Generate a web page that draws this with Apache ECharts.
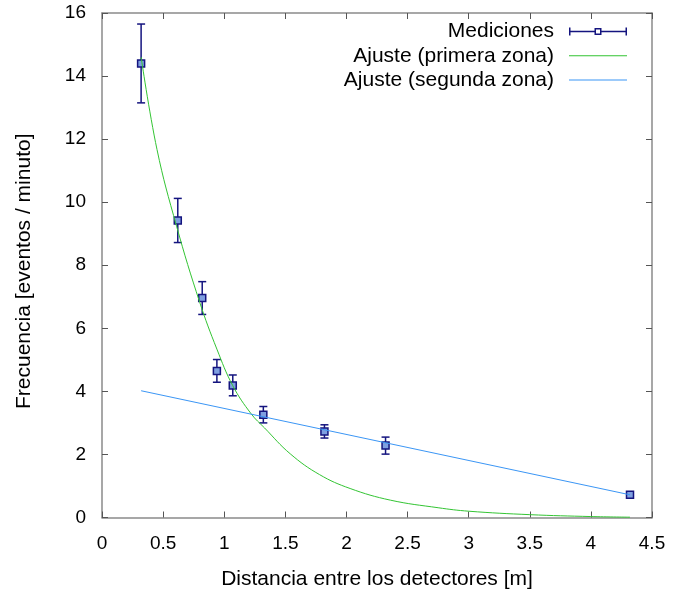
<!DOCTYPE html>
<html>
<head>
<meta charset="utf-8">
<script src="https://cdn.jsdelivr.net/npm/echarts@6/dist/echarts.min.js"></script>
<style>
  html, body { margin: 0; padding: 0; background: #fff; }
  #chart { width: 684px; height: 595px; }
</style>
</head>
<body>
<div id="chart"></div>
<script>
// Measured coincidence rate vs. detector separation
var distancias = [0.32, 0.62, 0.82, 0.94, 1.07, 1.32, 1.82, 2.32, 4.32];
var frecuencias = [14.4, 9.42, 6.96, 4.65, 4.19, 3.26, 2.73, 2.28, 0.72];
var errores = [1.25, 0.70, 0.52, 0.36, 0.33, 0.26, 0.21, 0.27, 0.08];

// Fit curve for the first zone (sampled along the curve)
var ajuste1X = [0.32, 0.45, 0.61, 0.80, 0.94, 1.07, 1.22, 1.33, 1.54, 1.78, 2.03, 2.36, 2.75, 3.00, 3.50, 4.00, 4.32];
var ajuste1Y = [14.6, 11.67, 9.24, 6.82, 5.34, 4.18, 3.29, 2.84, 2.02, 1.36, 0.92, 0.55, 0.31, 0.20, 0.09, 0.03, 0.01];

// Straight-line fit for the second zone
var ajuste2X = [0.32, 4.32];
var ajuste2Y = [4.02, 0.72];

var nombres = ['Mediciones', 'Ajuste (primera zona)', 'Ajuste (segunda zona)'];
var xTicks = { min: 0, max: 4.5, interval: 0.5 };
var yTicks = { min: 0, max: 16, interval: 2 };

var FONT = 'Liberation Sans, Arial, Helvetica, sans-serif';
var NAVY = '#14147f';
var GREEN = '#33c433';
var BLUE = '#3b96f5';
var FRAME = '#8a8a8a';

function zip(xs, ys) {
  return xs.map(function (x, i) { return [x, ys[i]]; });
}

var medicionesData = distancias.map(function (d, i) {
  return [d, frecuencias[i], errores[i]];
});

// Legend glyphs: corner specks keep every icon's box at 58x10
var SPECKS = 'M0 0h0.01v0.01h-0.01zM57.99 9.99h0.01v0.01h-0.01z';
var medicionesIcon = 'path://' + SPECKS +
  'M0 4.25H25.5V5.75H0Z' +
  'M32.5 4.25H58V5.75H32.5Z' +
  'M0 1H1.5V9H0Z' +
  'M56.5 1H58V9H56.5Z' +
  'M25.5 1.5H32.5V8.5H25.5Z' +
  'M27 3V7H31V3Z';
var lineaIcon = 'path://' + SPECKS + 'M0 4.5H58V5.5H0Z';

function frameAxis(extra) {
  var base = {
    type: 'value',
    splitLine: { show: false },
    axisLine: { show: true, onZero: false, lineStyle: { color: FRAME, width: 1.5 } },
    axisTick: { show: true, inside: true, length: 6, lineStyle: { color: '#555', width: 1 } }
  };
  for (var k in extra) base[k] = extra[k];
  return base;
}

var chart = echarts.init(document.getElementById('chart'), null, { renderer: 'canvas' });

chart.setOption({
  animation: false,
  backgroundColor: '#ffffff',
  grid: { left: 102, right: 32, top: 13, bottom: 76 },
  legend: {
    orient: 'vertical',
    right: 57,
    top: 21,
    padding: 0,
    align: 'right',
    itemWidth: 58,
    itemHeight: 10,
    itemGap: 3.3,
    selectedMode: false,
    itemStyle: { borderWidth: 0 },
    lineStyle: { width: 0 },
    textStyle: { fontFamily: FONT, fontSize: 21, color: '#000', padding: [0, 10, 0, 0] },
    data: [
      { name: nombres[0], icon: medicionesIcon, itemStyle: { color: NAVY, borderWidth: 0 } },
      { name: nombres[1], icon: lineaIcon, itemStyle: { color: GREEN, borderWidth: 0 } },
      { name: nombres[2], icon: lineaIcon, itemStyle: { color: BLUE, borderWidth: 0 } }
    ]
  },
  xAxis: [
    frameAxis({
      position: 'bottom',
      min: xTicks.min, max: xTicks.max, interval: xTicks.interval,
      name: 'Distancia entre los detectores [m]',
      nameLocation: 'middle',
      nameGap: 51.5,
      nameTextStyle: { fontFamily: FONT, fontSize: 21, color: '#000' },
      axisLabel: { fontFamily: FONT, fontSize: 19, color: '#000', margin: 16.5 }
    }),
    frameAxis({
      position: 'top',
      min: xTicks.min, max: xTicks.max, interval: xTicks.interval,
      axisLabel: { show: false }
    })
  ],
  yAxis: [
    frameAxis({
      position: 'left',
      min: yTicks.min, max: yTicks.max, interval: yTicks.interval,
      name: 'Frecuencia [eventos / minuto]',
      nameLocation: 'middle',
      nameGap: 67,
      nameTextStyle: { fontFamily: FONT, fontSize: 21, color: '#000', padding: [0, 12, 0, 0] },
      axisLabel: { fontFamily: FONT, fontSize: 19, color: '#000', margin: 16 }
    }),
    frameAxis({
      position: 'right',
      min: yTicks.min, max: yTicks.max, interval: yTicks.interval,
      axisLabel: { show: false }
    })
  ],
  series: [
    {
      name: nombres[0],
      type: 'custom',
      xAxisIndex: 0,
      yAxisIndex: 0,
      z: 3,
      encode: { x: 0, y: 1 },
      data: medicionesData,
      renderItem: function (params, api) {
        var x = api.value(0), y = api.value(1), e = api.value(2);
        var p = api.coord([x, y]);
        var hi = api.coord([x, y + e]);
        var lo = api.coord([x, y - e]);
        var cap = 4, half = 3.5;
        var st = { stroke: NAVY, lineWidth: 1.5, fill: null };
        return {
          type: 'group',
          children: [
            { type: 'line', shape: { x1: p[0], y1: hi[1], x2: p[0], y2: lo[1] }, style: st },
            { type: 'line', shape: { x1: p[0] - cap, y1: hi[1], x2: p[0] + cap, y2: hi[1] }, style: st },
            { type: 'line', shape: { x1: p[0] - cap, y1: lo[1], x2: p[0] + cap, y2: lo[1] }, style: st },
            { type: 'rect', shape: { x: p[0] - half, y: p[1] - half, width: 2 * half, height: 2 * half },
              style: { fill: '#7f9fe0', stroke: NAVY, lineWidth: 1.5 } }
          ]
        };
      }
    },
    {
      name: nombres[1],
      type: 'line',
      z: 4,
      data: zip(ajuste1X, ajuste1Y),
      smooth: 0.4,
      symbol: 'none',
      lineStyle: { color: GREEN, width: 1 },
      itemStyle: { color: GREEN }
    },
    {
      name: nombres[2],
      type: 'line',
      z: 4,
      data: zip(ajuste2X, ajuste2Y),
      symbol: 'none',
      lineStyle: { color: BLUE, width: 1 },
      itemStyle: { color: BLUE }
    }
  ]
});
</script>
</body>
</html>
